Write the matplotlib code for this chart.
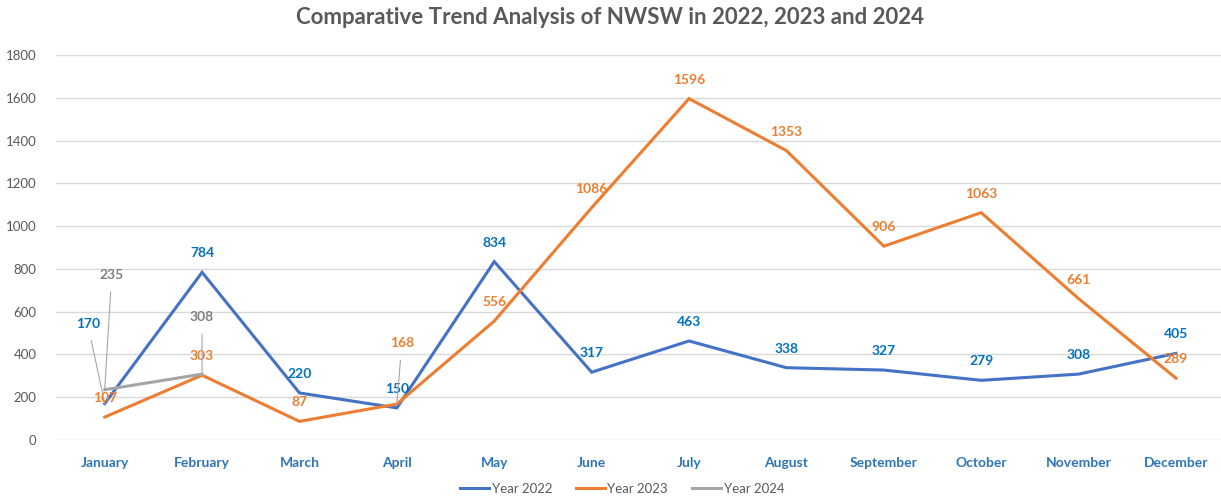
import matplotlib
matplotlib.use("Agg")
import matplotlib.pyplot as plt

months = ["January", "February", "March", "April", "May", "June", "July",
          "August", "September", "October", "November", "December"]
y2022 = [170, 784, 220, 150, 834, 317, 463, 338, 327, 279, 308, 405]
y2023 = [107, 303, 87, 168, 556, 1086, 1596, 1353, 906, 1063, 661, 289]
y2024 = [235, 308]
yticks = [0, 200, 400, 600, 800, 1000, 1200, 1400, 1600, 1800]

plt.rcParams['font.family'] = ['Lato', 'DejaVu Sans']

c22, c23, c24 = "#4472C4", "#ED7D31", "#A5A5A5"
t22, t23, t24 = "#0070C0", "#ED7D31", "#7F7F7F"

fig = plt.figure(figsize=(12.21, 4.97), dpi=100)
ax = fig.add_axes([56 / 1221, 1 - 440 / 497, 1 - 56 / 1221 + 0.003, (440 - 55) / 497])
x = list(range(len(months)))

ax.plot(x, y2022, color=c22, lw=2.2, label="Year 2022", solid_joinstyle="miter", zorder=3)
ax.plot(x, y2023, color=c23, lw=2.2, label="Year 2023", solid_joinstyle="miter", zorder=3)
ax.plot(x[:len(y2024)], y2024, color=c24, lw=2.2, label="Year 2024", zorder=3)

ax.set_xlim(-0.5, 11.5)
ax.set_ylim(0, 1800)
ax.set_yticks(yticks)
ax.set_yticklabels([str(v) for v in yticks], color="#595959", fontsize=9.5)
ax.set_xticks(x)
ax.set_xticklabels(months, color="#2E75B6", fontsize=10, fontweight="bold")
ax.tick_params(axis="both", length=0)
ax.tick_params(axis="x", pad=12)
ax.tick_params(axis="y", pad=14)
for s in ax.spines.values():
    s.set_visible(False)
ax.grid(axis="y", color="#D9D9D9", lw=1)
ax.set_axisbelow(True)

# label offsets in pixels (dx, dy); leader lines where offset is large
default = (0, 19)
off22 = {0: (-17, 80)}
off23 = {3: (5, 61)}
off24 = {0: (7, 115), 1: (0, 57)}

def label(series, color, offs):
    for i, v in enumerate(series):
        dx, dy = offs.get(i, default)
        lead = i in offs
        ax.annotate(str(v), xy=(i, v), xytext=(dx, dy), textcoords="offset pixels",
                    ha="center", va="center", color=color, fontsize=10,
                    fontweight="bold", zorder=5,
                    arrowprops=dict(arrowstyle="-", color="#A6A6A6", lw=0.8,
                                    shrinkA=6, shrinkB=0) if lead else None)

label(y2022, t22, off22)
label(y2023, t23, off23)
label(y2024, t24, off24)

fig.text(0.5, 1 - 18 / 497, "Comparative Trend Analysis of NWSW in 2022, 2023 and 2024",
         ha="center", va="center", fontsize=16, fontweight="bold", color="#595959")

leg = fig.legend(loc="center", bbox_to_anchor=(622 / 1221, 1 - 489 / 497), ncol=3, frameon=False,
                 fontsize=9.5, handlelength=2.2, handletextpad=0.2, columnspacing=1.8)
for t in leg.get_texts():
    t.set_color("#595959")

fig.savefig("out.png", dpi=100)
